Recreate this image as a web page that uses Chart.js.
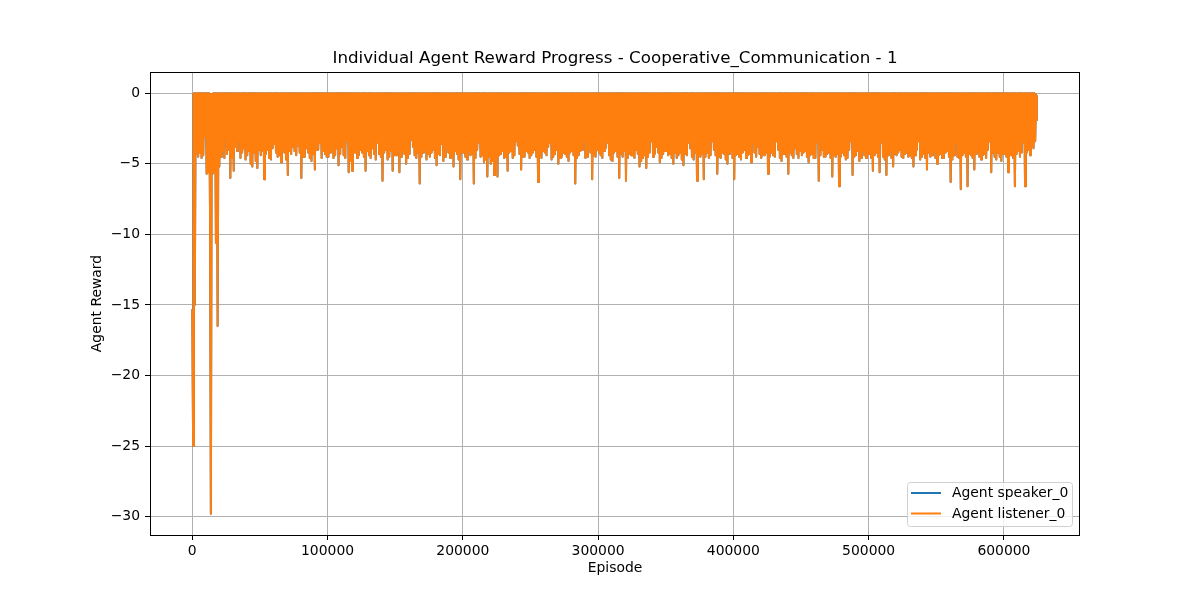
<!DOCTYPE html>
<html>
<head>
<meta charset="utf-8">
<script src="https://cdn.jsdelivr.net/npm/chart.js@4.4.1/dist/chart.umd.min.js"></script>
<style>
    html, body { margin: 0; padding: 0; background: #fff; }
    canvas { display: block; }
</style>
</head>
<body>
<canvas id="chart" width="1200" height="600"></canvas>
<script>
const titleText = 'Individual Agent Reward Progress - Cooperative_Communication - 1'
const agentNames = ['Agent speaker_0', 'Agent listener_0']
const agentColors = ['#1f77b4', '#ff7f0e']

// one sample every episodeStep episodes (peaks / dips);
// each row covers 25000 episodes
const episodeStep = 625
const reward = [
    -15.3, -25.0, 0, -15.0, 0, -4.3, 0, -4.5, 0, -4.2, 0, -4.6, 0, -4.4, 0, -3.1, 0, -5.7, 0, -5.6, 0, -8.5, -29.8, -0.3, -5.7, 0, -5.6, 0, -10.6, 0, -16.5, 0, -5.2, 0, -4.5, 0, -4.1, 0, -4.6, 0,
    0, -4.3, 0, -4.0, 0, -6.0, 0, -4.6, 0, -5.5, 0, -3.8, 0, -4.1, 0, -3.4, 0, -4.6, 0, -4.2, 0, -3.9, 0, -4.7, 0, -4.4, 0, -4.1, 0, -5.0, 0, -5.2, 0, -4.2, 0, -4.8, 0, -5.3, 0, -4.0,
    0, -4.4, 0, -4.1, 0, -6.1, 0, -4.3, 0, -4.0, 0, -4.6, 0, -4.7, 0, -3.9, 0, -3.6, 0, -4.2, 0, -4.5, 0, -4.4, 0, -4.9, 0, -4.0, 0, -4.2, 0, -4.7, 0, -5.8, 0, -4.1, 0, -4.3, 0, -3.8,
    0, -4.1, 0, -4.4, 0, -3.7, 0, -4.2, 0, -6.0, 0, -4.5, 0, -4.5, 0, -3.9, 0, -4.2, 0, -4.6, 0, -4.8, 0, -4.3, 0, -5.4, 0, -4.0, 0, -4.0, 0, -3.5, 0, -4.6, 0, -4.1, 0, -4.3, 0, -4.5,
    0, -4.5, 0, -4.2, 0, -4.0, 0, -4.6, 0, -4.4, 0, -3.9, 0, -5.1, 0, -4.3, 0, -3.8, 0, -4.4, 0, -4.6, 0, -3.4, 0, -5.6, 0, -4.8, 0, -5.5, 0, -4.2, 0, -4.2, 0, -4.6, 0, -4.4, 0, -4.0,
    0, -4.2, 0, -4.5, 0, -5.5, 0, -4.1, 0, -4.4, 0, -4.6, 0, -3.9, 0, -4.3, 0, -4.7, 0, -3.5, 0, -4.3, 0, -4.5, 0, -6.2, 0, -4.2, 0, -4.0, 0, -4.7, 0, -4.5, 0, -4.1, 0, -5.5, 0, -4.4,
    0, -4.4, 0, -4.0, 0, -5.6, 0, -4.5, 0, -4.1, 0, -4.3, 0, -5.0, 0, -4.6, 0, -4.3, 0, -3.3, 0, -3.8, 0, -4.4, 0, -4.6, 0, -4.2, 0, -6.4, 0, -4.5, 0, -4.2, 0, -4.0, 0, -4.7, 0, -4.3,
    0, -4.5, 0, -4.2, 0, -4.0, 0, -4.6, 0, -5.1, 0, -4.3, 0, -4.4, 0, -3.6, 0, -4.8, 0, -4.5, 0, -3.9, 0, -4.2, 0, -4.6, 0, -4.4, 0, -5.2, 0, -4.1, 0, -4.3, 0, -4.7, 0, -6.1, 0, -4.2,
    0, -4.2, 0, -4.5, 0, -4.7, 0, -4.1, 0, -4.4, 0, -4.3, 0, -6.4, 0, -4.6, 0, -4.0, 0, -3.5, 0, -4.5, 0, -4.4, 0, -4.9, 0, -4.7, 0, -5.9, 0, -4.5, 0, -5.0, 0, -4.8, 0, -5.8, 0, -4.6,
    0, -5.9, 0, -4.4, 0, -4.3, 0, -4.1, 0, -4.6, 0, -4.5, 0, -5.5, 0, -4.2, 0, -4.1, 0, -4.6, 0, -4.4, 0, -3.4, 0, -3.7, 0, -4.3, 0, -5.4, 0, -4.5, 0, -4.5, 0, -4.1, 0, -4.2, 0, -4.6,
    0, -4.4, 0, -4.2, 0, -4.0, 0, -4.5, 0, -6.3, 0, -4.3, 0, -4.6, 0, -4.1, 0, -4.2, 0, -4.4, 0, -3.8, 0, -3.5, 0, -4.7, 0, -4.5, 0, -4.3, 0, -4.0, 0, -5.0, 0, -4.6, 0, -4.5, 0, -4.2,
    0, -4.3, 0, -4.5, 0, -4.8, 0, -4.2, 0, -4.1, 0, -4.4, 0, -6.4, 0, -4.6, 0, -4.4, 0, -4.1, 0, -4.0, 0, -3.4, 0, -4.6, 0, -4.5, 0, -3.9, 0, -4.2, 0, -6.1, 0, -4.4, 0, -4.5, 0, -4.0,
    0, -4.2, 0, -4.4, 0, -4.6, 0, -4.1, 0, -3.9, 0, -3.5, 0, -4.4, 0, -4.7, 0, -4.8, 0, -4.2, 0, -4.1, 0, -4.5, 0, -6.0, 0, -4.3, 0, -4.5, 0, -4.1, 0, -6.2, 0, -4.6, 0, -4.3, 0, -4.4,
    0, -4.4, 0, -4.6, 0, -4.0, 0, -4.3, 0, -5.2, 0, -4.8, 0, -4.6, 0, -4.4, 0, -5.3, 0, -4.5, 0, -4.2, 0, -3.4, 0, -4.5, 0, -4.3, 0, -3.8, 0, -4.2, 0, -4.9, 0, -4.6, 0, -4.3, 0, -4.1,
    0, -4.1, 0, -4.4, 0, -4.3, 0, -4.6, 0, -5.0, 0, -4.2, 0, -4.6, 0, -4.4, 0, -4.2, 0, -4.7, 0, -5.1, 0, -4.3, 0, -4.4, 0, -3.5, 0, -3.9, 0, -4.5, 0, -4.7, 0, -4.2, 0, -6.2, 0, -4.4,
    0, -4.5, 0, -4.3, 0, -6.1, 0, -4.5, 0, -4.2, 0, -4.6, 0, -4.4, 0, -3.4, 0, -4.0, 0, -4.4, 0, -5.7, 0, -4.5, 0, -4.6, 0, -4.2, 0, -4.3, 0, -4.7, 0, -5.0, 0, -4.3, 0, -4.1, 0, -4.6,
    0, -6.1, 0, -4.4, 0, -4.3, 0, -4.5, 0, -4.7, 0, -4.2, 0, -4.0, 0, -4.6, 0, -4.4, 0, -4.3, 0, -4.9, 0, -3.5, 0, -4.2, 0, -4.5, 0, -3.8, 0, -4.3, 0, -4.6, 0, -4.4, 0, -4.4, 0, -4.2,
    0, -5.7, 0, -4.5, 0, -4.2, 0, -4.4, 0, -4.5, 0, -3.4, 0, -4.0, 0, -4.6, 0, -4.8, 0, -4.3, 0, -4.3, 0, -4.5, 0, -5.7, 0, -4.2, 0, -4.4, 0, -4.6, 0, -3.9, 0, -4.3, 0, -4.6, 0, -4.1,
    0, -4.4, 0, -4.2, 0, -4.1, 0, -4.5, 0, -4.9, 0, -4.4, 0, -4.3, 0, -4.6, 0, -4.6, 0, -3.5, 0, -6.2, 0, -4.4, 0, -4.0, 0, -4.5, 0, -4.5, 0, -4.3, 0, -4.2, 0, -4.6, 0, -5.9, 0, -4.4,
    0, -4.5, 0, -4.3, 0, -6.6, 0, -4.5, 0, -4.2, 0, -4.4, 0, -4.7, 0, -4.6, 0, -4.0, 0, -3.4, 0, -5.8, 0, -4.5, 0, -4.4, 0, -4.1, 0, -4.8, 0, -4.6, 0, -4.1, 0, -4.4, 0, -4.6, 0, -4.3,
    0, -4.3, 0, -4.6, 0, -5.5, 0, -4.4, 0, -4.2, 0, -4.5, 0, -5.6, 0, -3.5, 0, -4.5, 0, -4.7, 0, -5.8, 0, -4.4, 0, -4.1, 0, -4.6, 0, -5.2, 0, -4.3, 0, -4.4, 0, -4.2, 0, -4.0, 0, -4.5,
    0, -4.6, 0, -4.3, 0, -4.2, 0, -4.5, 0, -4.4, 0, -4.6, 0, -5.2, 0, -4.4, 0, -4.0, 0, -3.4, 0, -4.7, 0, -4.5, 0, -4.3, 0, -4.6, 0, -5.4, 0, -4.2, 0, -4.5, 0, -4.4, 0, -4.1, 0, -4.6,
    0, -5.0, 0, -4.4, 0, -4.3, 0, -4.6, 0, -4.6, 0, -4.2, 0, -4.1, 0, -4.5, 0, -6.3, 0, -4.7, 0, -4.4, 0, -3.5, 0, -4.5, 0, -4.6, 0, -6.8, 0, -4.4, 0, -4.2, 0, -4.5, 0, -6.6, 0, -4.3,
    0, -4.4, 0, -4.6, 0, -5.4, 0, -4.3, 0, -4.1, 0, -4.5, 0, -4.7, 0, -4.4, 0, -4.3, 0, -4.6, 0, -4.0, 0, -3.4, 0, -5.6, 0, -4.2, 0, -4.5, 0, -4.7, 0, -4.2, 0, -4.5, 0, -4.8, 0, -4.3,
    0, -4.3, 0, -4.5, 0, -5.6, 0, -4.4, 0, -4.4, 0, -4.6, 0, -6.6, 0, -4.3, 0, -4.1, 0, -4.5, 0, -4.2, 0, -3.5, 0, -6.6, 0, -4.2, 0, -4.0, 0, -4.4, 0, -3.7, 0, -3.9, 0, -3.4, -0.2, -1.9
]

const xTicks = [0, 100000, 200000, 300000, 400000, 500000, 600000]
const yTicks = [-30, -25, -20, -15, -10, -5, 0]
const xRange = [-31250, 656250]
const yRange = [-31.3, 1.5]

const font = 'DejaVu Sans'
const points = reward.map((r, i) => ({ x: i * episodeStep, y: r }))

// matplotlib-ish title, frame and legend
const decorations = {
    id: 'decorations',
    afterDatasetsDraw (chart) {
        const { ctx, chartArea: a } = chart
        ctx.save()
        ctx.strokeStyle = '#000'
        ctx.lineWidth = 1
        ctx.strokeRect(a.left + 0.5, a.top + 0.5, a.right - a.left - 1, a.bottom - a.top)

        ctx.fillStyle = '#000'
        ctx.font = `16.7px "${font}"`
        ctx.textAlign = 'center'
        ctx.textBaseline = 'alphabetic'
        ctx.fillText(titleText, (a.left + a.right) / 2, 63)

        // legend box, lower right
        const box = { x: 907.5, y: 482.5, w: 165, h: 44 }
        ctx.beginPath()
        ctx.roundRect(box.x, box.y, box.w, box.h, 3)
        ctx.fillStyle = 'rgba(255,255,255,0.8)'
        ctx.fill()
        ctx.strokeStyle = '#d0d0d0'
        ctx.stroke()
        ctx.font = `13.9px "${font}"`
        ctx.textAlign = 'left'
        ctx.textBaseline = 'middle'
        chart.data.datasets.forEach((ds, i) => {
            const y = 493 + i * 20.5
            ctx.strokeStyle = ds.borderColor
            ctx.lineWidth = 2
            ctx.beginPath()
            ctx.moveTo(911, y)
            ctx.lineTo(941, y)
            ctx.stroke()
            ctx.fillStyle = '#000'
            ctx.fillText(ds.label, 952, y + 0.5)
        })
        ctx.restore()
    }
}

const tickFont = { family: font, size: 13.9 }
const minus = v => v < 0 ? '\u2212' + Math.abs(v) : String(v)

new Chart(document.getElementById('chart'), {
    type: 'line',
    data: {
        datasets: agentNames.map((name, i) => ({
            label: name,
            data: points,
            borderColor: agentColors[i],
            backgroundColor: agentColors[i],
            borderWidth: 2,
            borderJoinStyle: 'round',
            pointRadius: 0,
            tension: 0,
            // the densely packed samples read as a solid band down from 0
            fill: 'origin',
            order: agentNames.length - i
        }))
    },
    options: {
        responsive: false,
        animation: false,
        devicePixelRatio: 1,
        parsing: false,
        layout: { padding: { left: 89, right: 120, top: 72, bottom: 23 } },
        plugins: {
            legend: { display: false },
            title: { display: false },
            tooltip: { enabled: false }
        },
        scales: {
            x: {
                type: 'linear',
                bounds: 'data',
                min: xRange[0],
                max: xRange[1],
                afterBuildTicks: axis => { axis.ticks = xTicks.map(v => ({ value: v })) },
                afterFit: axis => { axis.height = 42 },
                ticks: { color: '#000', font: tickFont, padding: 3, maxRotation: 0, autoSkip: false, callback: v => String(v) },
                grid: { color: '#b0b0b0', lineWidth: 1, tickColor: '#000', tickLength: 5, tickWidth: 1 },
                border: { display: false },
                title: { display: true, text: 'Episode', color: '#000', font: tickFont, padding: 0 }
            },
            y: {
                type: 'linear',
                bounds: 'data',
                min: yRange[0],
                max: yRange[1],
                afterBuildTicks: axis => { axis.ticks = yTicks.map(v => ({ value: v })) },
                afterFit: axis => { axis.width = 61 },
                ticks: { color: '#000', font: tickFont, padding: 5, autoSkip: false, callback: minus },
                grid: { color: '#b0b0b0', lineWidth: 1, tickColor: '#000', tickLength: 5, tickWidth: 1 },
                border: { display: false },
                title: { display: true, text: 'Agent Reward', color: '#000', font: tickFont, padding: 0 }
            }
        }
    },
    plugins: [decorations]
})
</script>
</body>
</html>
